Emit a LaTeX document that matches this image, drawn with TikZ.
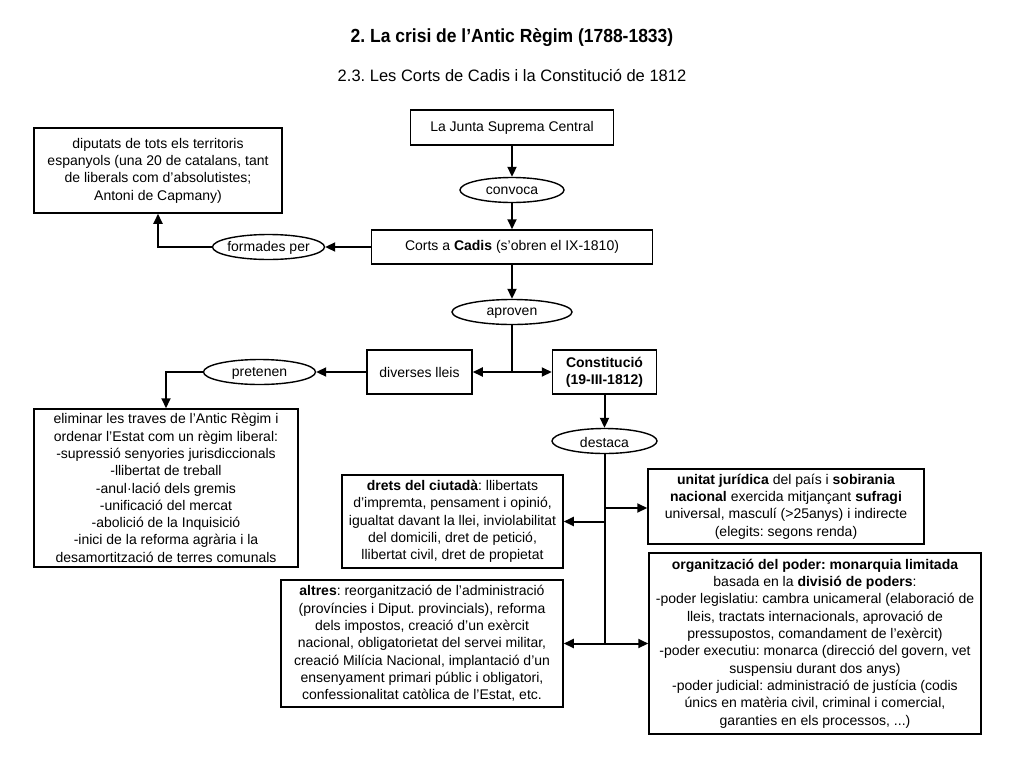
\documentclass[tikz,border=0pt]{standalone}
\usepackage{fontspec}
\setmainfont{Liberation Sans}
\usetikzlibrary{arrows.meta,shapes.geometric}
\frenchspacing
\begin{document}
\begin{tikzpicture}[x=1pt,y=-1pt,
  every node/.style={font=\fontsize{14pt}{17.3pt}\selectfont},
  box/.style={draw,line width=1.5pt,align=center,inner sep=0pt},
  oval/.style={draw,ellipse,line width=1.4pt,inner sep=0pt,minimum height=25pt},
  otext/.style={label={[yshift=-1pt]center:#1}},
  conn/.style={line width=2pt},
  arr/.style={conn,-{Triangle[length=10pt,width=9pt]}}
]
\useasboundingbox[fill=white] (0,0) rectangle (1024,768);

\node[font=\fontsize{19pt}{22pt}\selectfont\bfseries] (title) at (512,38) {\scalebox{0.92}[1]{2. La crisi de l’Antic Règim (1788-1833)}};
\node[font=\fontsize{16.5pt}{20pt}\selectfont] (subtitle) at (512,76) {2.3. Les Corts de Cadis i la Constitució de 1812};

\node[box,minimum width=203pt,minimum height=35pt] (junta) at (512,127.5) {La Junta Suprema Central};
\node[oval,minimum width=104pt,otext=convoca] (convoca) at (512,190) {};
\node[box,minimum width=281pt,minimum height=34pt] (corts) at (512,247) {Corts a \textbf{Cadis} (s’obren el IX-1810)};
\node[oval,minimum width=112pt,otext=formades per] (formades) at (268.5,247) {};
\node[box,minimum width=248pt,minimum height=85pt] (dip) at (158,170.5) {diputats de tots els territoris\\espanyols (una 20 de catalans, tant\\de liberals com d’absolutistes;\\Antoni de Capmany)};
\node[oval,minimum width=120pt,otext=aproven] (aproven) at (512,312) {};
\node[box,minimum width=105pt,minimum height=44pt] (lleis) at (419.5,372) {diverses lleis};
\node[box,minimum width=104pt,minimum height=44pt] (const) at (604.5,372) {\textbf{Constitució}\\\textbf{(19-III-1812)}};
\node[oval,minimum width=112pt,otext=pretenen] (pretenen) at (259.5,372) {};
\node[box,minimum width=264pt,minimum height=158pt] (elim) at (166,488) {eliminar les traves de l’Antic Règim i\\ordenar l’Estat com un règim liberal:\\-supressió senyories jurisdiccionals\\-llibertat de treball\\-anul·lació dels gremis\\-unificació del mercat\\-abolició de la Inquisició\\-inici de la reforma agrària i la\\desamortització de terres comunals};
\node[oval,minimum width=105pt,otext=destaca] (destaca) at (604.5,441) {};
\node[box,minimum width=221pt,minimum height=93pt] (drets) at (452.5,521.5) {\textbf{drets del ciutadà}: llibertats\\d’impremta, pensament i opinió,\\igualtat davant la llei, inviolabilitat\\del domicili, dret de petició,\\llibertat civil, dret de propietat};
\node[box,minimum width=282pt,minimum height=127pt] (altres) at (422,643.5) {\textbf{altres}: reorganització de l’administració\\(províncies i Diput. provincials), reforma\\dels impostos, creació d’un exèrcit\\nacional, obligatorietat del servei militar,\\creació Milícia Nacional, implantació d’un\\ensenyament primari públic i obligatori,\\confessionalitat catòlica de l’Estat, etc.};
\node[box,minimum width=276pt,minimum height=75pt] (unitat) at (786,506.5) {\textbf{unitat jurídica} del país i \textbf{sobirania}\\\textbf{nacional} exercida mitjançant \textbf{sufragi}\\universal, masculí (>25anys) i indirecte\\(elegits: segons renda)};
\node[box,minimum width=332pt,minimum height=181pt] (org) at (815,643.5) {\textbf{organització del poder: monarquia limitada}\\basada en la \textbf{divisió de poders}:\\-poder legislatiu: cambra unicameral (elaboració de\\lleis, tractats internacionals, aprovació de\\pressupostos, comandament de l’exèrcit)\\-poder executiu: monarca (direcció del govern, vet\\suspensiu durant dos anys)\\-poder judicial: administració de justícia (codis\\únics en matèria civil, criminal i comercial,\\garanties en els processos, ...)};

\coordinate (j1) at (aproven.south |- lleis.east);
\coordinate (j2) at (destaca.south |- altres.east);

\draw[arr] (junta) -- (convoca);
\draw[arr] (convoca) -- (corts);
\draw[arr] (corts.west) -- (formades.east);
\draw[arr] (formades.west) -| (dip.south);
\draw[arr] (corts) -- (aproven);
\draw[conn] (aproven.south) -- (j1);
\draw[arr] (j1) -- (lleis.east);
\draw[arr] (j1) -- (const.west);
\draw[arr] (lleis.west) -- (pretenen.east);
\draw[arr] (pretenen.west) -| (elim.north);
\draw[arr] (const.south) -- (destaca.north);
\draw[conn] (destaca.south) -- (j2);
\draw[arr] (destaca.south |- 0,508) -- (unitat.west |- 0,508);
\draw[arr] (destaca.south |- drets.east) -- (drets.east);
\draw[arr] (j2) -- (altres.east);
\draw[arr] (j2) -- (org.west);
\end{tikzpicture}
\end{document}
